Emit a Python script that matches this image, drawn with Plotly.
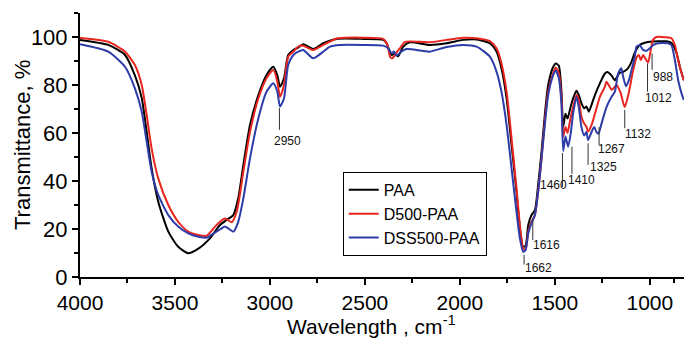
import plotly.graph_objects as go

# ---------------- data ----------------
paa_wn = [4000, 3851, 3763, 3711, 3675, 3649, 3623, 3588, 3535, 3483, 3430, 3377, 3316, 3263, 3228, 3193,
          3167, 3140, 3105, 3061, 3018, 2982, 2961, 2947, 2926, 2904, 2877, 2851, 2825, 2772, 2719, 2649,
          2509, 2404, 2386, 2360, 2342, 2325, 2298, 2263, 2158, 2070, 1983, 1912, 1842, 1807, 1781, 1754,
          1728, 1702, 1684, 1667, 1654, 1640, 1623, 1605, 1588, 1570, 1553, 1535, 1509, 1495, 1479, 1465,
          1456, 1444, 1433, 1421, 1404, 1386, 1374, 1360, 1346, 1333, 1321, 1307, 1289, 1263, 1237, 1224,
          1202, 1184, 1160, 1140, 1120, 1100, 1079, 1053, 1030, 1000, 960, 912, 886, 860, 840, 821]
paa_t = [98.8, 96.7, 92.5, 84.0, 74.6, 60.5, 45.3, 31.4, 18.9, 12.6, 9.9, 11.8, 16.1, 21.7, 23.8, 25.8,
         32.8, 46.7, 63.3, 75.8, 84.2, 87.6, 84.0, 79.3, 82.8, 92.5, 94.6, 95.6, 97.0, 95.0, 97.4, 99.2,
         99.2, 98.8, 97.4, 92.5, 93.0, 92.0, 96.0, 97.8, 96.7, 97.4, 98.8, 99.0, 97.4, 93.9, 86.9, 74.4,
         55.0, 35.5, 20.3, 12.6, 13.0, 21.7, 25.8, 27.9, 38.3, 52.2, 67.5, 80.0, 87.5, 89.0, 88.0, 77.2,
         62.6, 68.0, 66.0, 69.6, 74.4, 77.6, 75.8, 72.4, 70.3, 71.0, 68.9, 71.7, 75.8, 80.7, 84.7, 85.4,
         84.0, 82.0, 85.0, 85.5, 86.5, 89.0, 93.5, 96.7, 97.5, 98.0, 98.2, 98.2, 97.5, 93.5, 87.0, 82.0]

d500_wn = [4000, 3851, 3763, 3711, 3675, 3649, 3623, 3588, 3535, 3483, 3430, 3377, 3333, 3289, 3263, 3237,
           3202, 3175, 3140, 3105, 3061, 3018, 2982, 2961, 2947, 2926, 2904, 2877, 2851, 2825, 2772, 2719,
           2649, 2600, 2509, 2404, 2381, 2368, 2356, 2333, 2316, 2289, 2210, 2158, 2070, 1983, 1912, 1842,
           1807, 1781, 1754, 1728, 1702, 1684, 1667, 1654, 1640, 1623, 1605, 1588, 1570, 1553, 1535, 1509,
           1495, 1479, 1465, 1456, 1444, 1433, 1421, 1404, 1386, 1374, 1360, 1346, 1333, 1325, 1307, 1289,
           1263, 1237, 1228, 1200, 1175, 1155, 1132, 1110, 1088, 1070, 1058, 1047, 1035, 1023, 1009, 995,
           983, 965, 921, 886, 868, 851, 833, 821]
d500_t = [99.6, 98.0, 93.9, 88.3, 80.0, 67.5, 53.6, 41.1, 30.0, 23.0, 18.9, 17.5, 17.2, 21.0, 23.0, 24.4,
          22.8, 27.2, 43.9, 60.5, 74.4, 82.8, 86.3, 81.4, 75.1, 80.0, 91.8, 93.9, 96.0, 96.4, 94.6, 96.7,
          99.4, 99.7, 99.7, 99.2, 96.7, 91.8, 91.1, 93.6, 95.3, 98.0, 98.0, 97.8, 98.8, 99.7, 99.5, 98.3,
          95.3, 89.0, 77.2, 57.8, 37.0, 21.7, 12.0, 11.3, 18.9, 23.0, 25.8, 35.5, 49.4, 64.7, 77.2, 84.9,
          87.3, 85.0, 74.4, 58.5, 62.5, 60.0, 64.7, 70.8, 75.8, 73.8, 66.8, 64.0, 62.5, 60.6, 63.3, 68.0,
          75.0, 79.2, 81.4, 78.0, 80.0, 77.0, 70.8, 77.0, 86.0, 91.5, 92.5, 90.4, 92.5, 91.0, 89.4, 94.6,
          98.8, 100.0, 99.9, 99.5, 96.6, 90.4, 85.0, 82.0]

dss500_wn = [4000, 3851, 3763, 3711, 3675, 3649, 3623, 3588, 3535, 3483, 3430, 3377, 3333, 3300, 3263, 3237,
             3215, 3193, 3167, 3140, 3105, 3061, 3018, 2982, 2961, 2947, 2926, 2904, 2877, 2851, 2825, 2772,
             2719, 2684, 2632, 2509, 2404, 2377, 2360, 2347, 2333, 2307, 2281, 2193, 2158, 2070, 1983, 1912,
             1842, 1807, 1781, 1754, 1728, 1702, 1684, 1667, 1654, 1640, 1623, 1605, 1588, 1570, 1553, 1535,
             1509, 1495, 1479, 1465, 1456, 1444, 1430, 1416, 1404, 1386, 1374, 1360, 1346, 1334, 1325, 1307,
             1293, 1281, 1270, 1254, 1228, 1202, 1184, 1167, 1150, 1140, 1125, 1110, 1096, 1079, 1070, 1053,
             1035, 1017, 1000, 983, 958, 904, 886, 868, 851, 833, 821]
dss500_t = [97.0, 93.9, 87.6, 78.6, 68.9, 56.4, 43.9, 34.2, 25.8, 21.0, 18.2, 16.8, 16.4, 18.0, 19.8, 21.0,
            20.0, 18.9, 23.0, 32.8, 49.4, 66.1, 77.2, 80.7, 77.2, 71.0, 74.4, 88.3, 92.5, 93.9, 94.6, 91.1,
            93.9, 96.0, 96.7, 96.7, 96.4, 95.3, 93.2, 94.0, 92.2, 94.0, 95.0, 94.2, 93.9, 95.8, 96.7, 96.0,
            91.8, 85.6, 77.2, 63.3, 45.3, 27.2, 16.1, 10.5, 11.3, 18.2, 22.4, 25.8, 35.5, 49.4, 63.3, 75.8,
            84.0, 86.0, 82.8, 71.7, 52.5, 58.5, 54.3, 60.0, 68.0, 75.0, 70.8, 62.5, 59.0, 60.4, 57.1, 60.4,
            62.5, 60.4, 59.7, 64.0, 70.8, 75.0, 77.2, 84.7, 87.0, 83.3, 79.5, 82.0, 86.3, 91.8, 96.0, 96.6,
            94.6, 94.3, 95.3, 96.6, 97.4, 97.4, 96.6, 90.4, 82.1, 76.5, 73.8]

series_names = ["PAA", "D500-PAA", "DSS500-PAA"]

peak_labels = ["2950", "1662", "1616", "1460", "1410", "1325", "1267", "1132", "1012", "988"]
peak_wn = [2950, 1662, 1616, 1460, 1410, 1325, 1267, 1132, 1012, 988]

x_ticks = [4000, 3500, 3000, 2500, 2000, 1500, 1000]
y_ticks = [0, 20, 40, 60, 80, 100]

x_title = "Wavelength , cm<sup>-1</sup>"
y_title = "Transmittance, %"

# ---------------- styling / placement (not data) ----------------
colors = ["#000000", "#e8251e", "#2d3ca8"]
# (leader top T, leader bottom T, label T, label x shift px)
peak_layout = [
    (70.4, 61.3, 56.7, 8),
    (9.2, 5.2, 3.9, 14),
    (24.0, 15.4, 13.3, 14),
    (51.7, 37.5, 38.3, -9),
    (54.3, 43.0, 40.4, 10),
    (55.7, 46.7, 45.8, 15),
    (62.5, 55.0, 53.3, 12),
    (69.6, 62.0, 59.6, 13),
    (89.0, 77.2, 74.4, 11),
    (93.2, 86.3, 83.5, 11),
]

FONT = "Liberation Sans, Arial, sans-serif"

fig = go.Figure()
for name, wn, t, c in [(series_names[0], paa_wn, paa_t, colors[0]),
                       (series_names[1], d500_wn, d500_t, colors[1]),
                       (series_names[2], dss500_wn, dss500_t, colors[2])]:
    fig.add_trace(go.Scatter(x=wn, y=t, mode="lines", name=name,
                             line=dict(color=c, width=2, shape="spline", smoothing=0.6)))

for lab, wn, (ytop, ybot, ylab, dx) in zip(peak_labels, peak_wn, peak_layout):
    fig.add_shape(type="line", x0=wn, x1=wn, y0=ybot, y1=ytop, xref="x", yref="y",
                  line=dict(color="#333333", width=1))
    fig.add_annotation(x=wn, y=ylab, text=lab, showarrow=False, xshift=dx,
                       xanchor="center", yanchor="middle",
                       font=dict(family=FONT, size=12, color="#111111"))

# axis titles placed as annotations for exact positioning
fig.add_annotation(xref="paper", yref="paper", x=0.4834, y=-0.18, text=x_title,
                   showarrow=False, xanchor="center", yanchor="middle",
                   font=dict(family=FONT, size=21, color="black"))
fig.add_annotation(xref="paper", yref="paper", x=-0.096, y=0.50, text=y_title, textangle=-90,
                   showarrow=False, xanchor="center", yanchor="middle",
                   font=dict(family=FONT, size=22, color="black"))

fig.update_layout(
    width=684, height=338,
    margin=dict(l=80, r=0, t=13, b=61),
    paper_bgcolor="white", plot_bgcolor="white",
    font=dict(family=FONT, color="black"),
    showlegend=True,
    legend=dict(x=0.435, y=0.398, xanchor="left", yanchor="top",
                bordercolor="black", borderwidth=1, bgcolor="white",
                font=dict(family=FONT, size=16), tracegroupgap=0,
                itemwidth=30),
    xaxis=dict(range=[4000, 820], tickmode="array", tickvals=x_ticks,
               ticktext=[str(v) for v in x_ticks],
               ticks="outside", ticklen=6, tickwidth=1.5, tickcolor="black",
               showline=True, linecolor="black", linewidth=2, mirror=False,
               showgrid=False, zeroline=False,
               tickfont=dict(family=FONT, size=21),
               minor=dict(tickmode="array", tickvals=[3750, 3250, 2750, 2250, 1750, 1250, 875],
                          ticks="outside", ticklen=4, tickcolor="black", tickwidth=1.5, showgrid=False)),
    yaxis=dict(range=[0, 110], tickmode="array", tickvals=y_ticks,
               ticks="outside", ticklen=6, tickwidth=1.5, tickcolor="black",
               showline=True, linecolor="black", linewidth=2, mirror=False,
               showgrid=False, zeroline=False,
               tickfont=dict(family=FONT, size=22),
               minor=dict(tickmode="array", tickvals=[10, 30, 50, 70, 90, 110],
                          ticks="outside", ticklen=4, tickcolor="black", tickwidth=1.5, showgrid=False)),
)

fig.write_html("out.html")
